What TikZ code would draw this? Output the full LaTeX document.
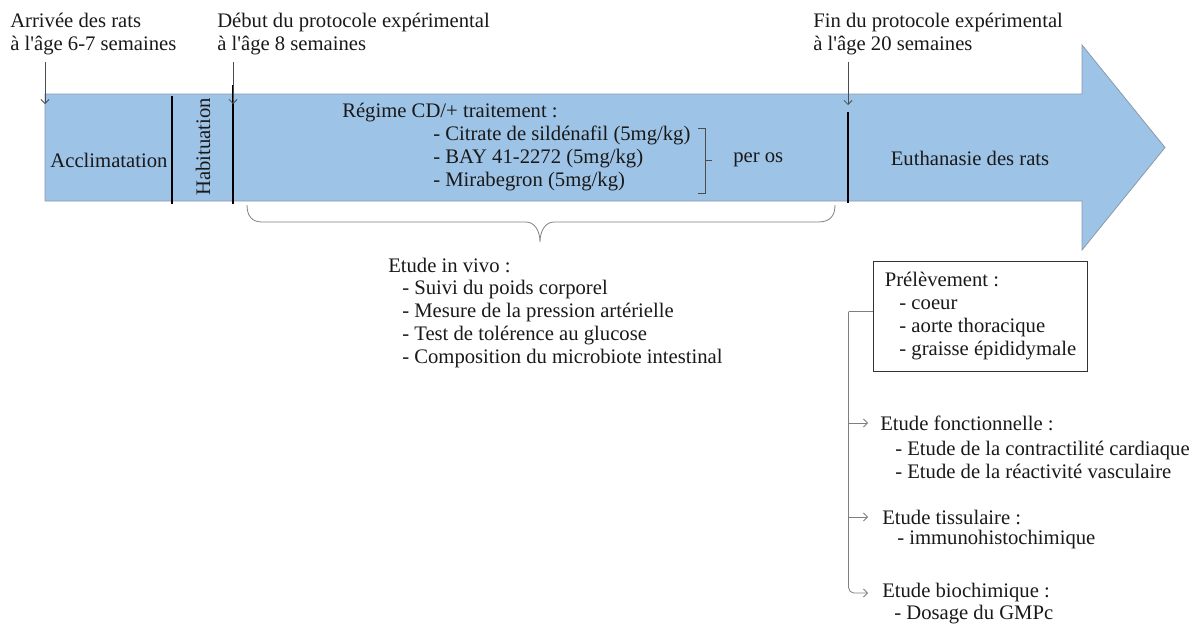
\documentclass[tikz,border=0pt]{standalone}
\usepackage{fontspec}
\setmainfont{Liberation Serif}
\usetikzlibrary{arrows.meta}

\definecolor{bleu}{HTML}{9DC3E6}
\definecolor{bord}{HTML}{8A9AAB}
\definecolor{gris}{HTML}{7F7F7F}

\newcommand{\ap}{\textquotesingle}

\tikzset{
  txt/.style={anchor=west, inner sep=0pt, align=left, text=black!90, font=\fontsize{15.5}{17.25}\selectfont},
  barre/.style={line width=1.5pt},
  lien/.style={draw=gris, line width=0.6pt},
  fl/.style={lien, -{Straight Barb[length=3pt, width=6pt]}},
}

\begin{document}
\begin{tikzpicture}[x=0.75pt, y=-0.75pt]
    \useasboundingbox (0,0) rectangle (1195,628);

    % Timeline arrow
    \draw[bord, fill=bleu, line width=0.6pt] (45,94) -- (1082,94) -- (1082,45) -- (1165,147.5)
        -- (1082,250) -- (1082,201) -- (45,201) -- cycle;
    \draw[barre] (172,96) -- (172,204);
    \draw[barre] (233,85) -- (233,204);
    \draw[barre] (848,112) -- (848,203);

    % Phases
    \node[txt, anchor=center] (acclim) at (109,160) {Acclimatation};
    \node[txt, anchor=center, rotate=90] (habit) at (203,147) {Habituation};
    \node[txt] (regime) at (342,113) {Régime CD/+ traitement :};
    \node[txt] (trait) at (433,158) {- Citrate de sildénafil (5mg/kg)\\- BAY 41-2272 (5mg/kg)\\- Mirabegron (5mg/kg)};
    \node[txt] (peros) at (733,160) {per os};
    \node[txt, anchor=center] (euth) at (970,158) {Euthanasie des rats};
    \draw[lien, gris!60!black] (698,128) -- (705,128) -- (705,193) -- (698,193) (705,160) -- (712,160);

    % Dates
    \node[txt] (arrivee) at (10,34.5) {Arrivée des rats\\à l\ap âge 6-7 semaines};
    \node[txt] (debut) at (217,34.5) {Début du protocole expérimental\\à l\ap âge 8 semaines};
    \node[txt] (fin) at (813,34.5) {Fin du protocole expérimental\\à l\ap âge 20 semaines};
    \coordinate (t0) at (45,104);
    \coordinate (t1) at (233,104);
    \coordinate (t2) at (848,105);
    \foreach \lab/\pt in {arrivee/t0, debut/t1, fin/t2}
        \draw[fl, gris!60!black, shorten <=5pt] (\pt |- \lab.south) -- (\pt);

    % In vivo
    \draw[lien] (247,205) .. controls (247,216) and (252,222) .. (262,222) -- (526,222)
        .. controls (534,222) and (540,230) .. (540,242)
        .. controls (540,230) and (546,222) .. (554,222) -- (818,222)
        .. controls (830,222) and (835,216) .. (835,205);
    \node[txt] (vivo) at (388,265) {Etude in vivo :};
    \node[txt] (mesures) at (402,324.5) {- Suivi du poids corporel\\- Mesure de la pression artérielle\\- Test de tolérence au glucose\\- Composition du microbiote intestinal};

    % Euthanasie
    \node[txt, draw=black!80, anchor=center, minimum width=161pt, minimum height=82pt, line width=0.9pt] (prel) at (980.5,316.5)
        {Prélèvement :\\\hspace*{11pt}- coeur\\\hspace*{11pt}- aorte thoracique\\\hspace*{11pt}- graisse épididymale};
    \node[txt] (fonct) at (880,423) {Etude fonctionnelle :};
    \node[txt] (fonctl) at (895,459.5) {- Etude de la contractilité cardiaque\\- Etude de la réactivité vasculaire};
    \node[txt] (tiss) at (882,517) {Etude tissulaire :};
    \node[txt] (tissl) at (897,540) {- immunohistochimique};
    \node[txt] (bio) at (882,593) {Etude biochimique :};
    \node[txt] (biol) at (894,615) {- Dosage du GMPc};

    \draw[lien] ([yshift=3.75pt]prel.west) -- ++(-24,0) coordinate (tronc);
    \draw[fl, rounded corners=4pt, shorten >=10.5pt] (tronc) |- (bio.west);
    \draw[fl, shorten >=9pt] (tronc |- fonct.west) -- (fonct.west);
    \draw[fl, shorten >=10.5pt] (tronc |- tiss.west) -- (tiss.west);
\end{tikzpicture}
\end{document}
